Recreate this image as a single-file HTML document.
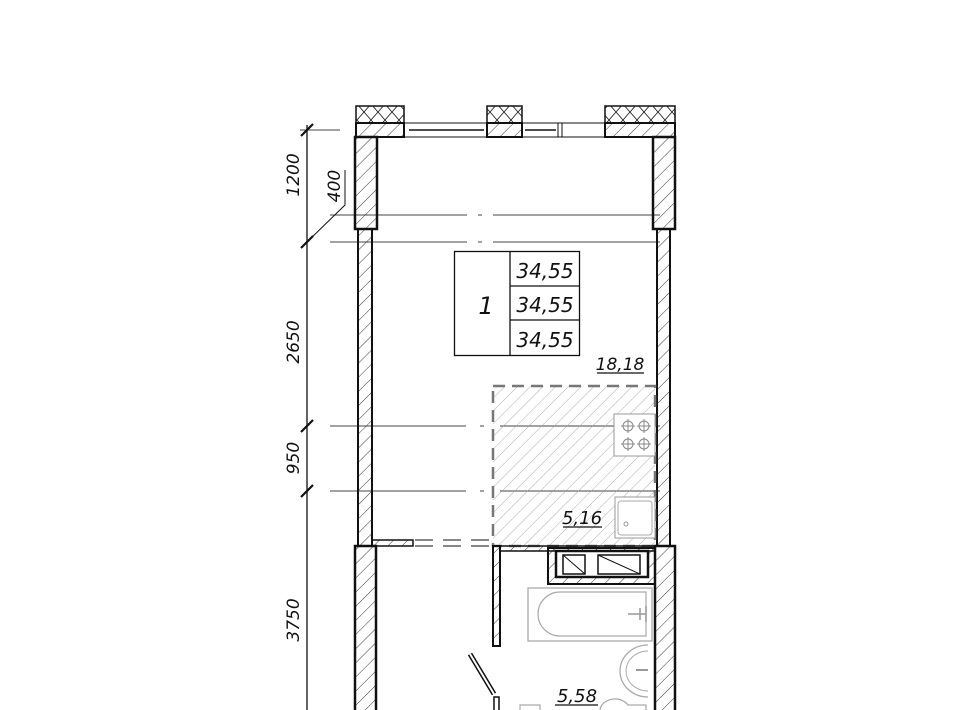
<!DOCTYPE html>
<html><head><meta charset="utf-8"><style>
html,body{margin:0;padding:0;background:#fff;width:960px;height:710px;overflow:hidden}
text{font-family:"DejaVu Sans","Liberation Sans",sans-serif;font-style:italic;fill:#111}
</style></head><body>
<svg width="960" height="710" viewBox="0 0 960 710" xmlns="http://www.w3.org/2000/svg">
<defs>
<pattern id="h" patternUnits="userSpaceOnUse" width="10" height="10" patternTransform="rotate(45)">
<line x1="0" y1="0" x2="0" y2="10" stroke="#222" stroke-width="0.9"/></pattern>
<pattern id="hl" patternUnits="userSpaceOnUse" width="9" height="9" patternTransform="rotate(45)">
<line x1="0" y1="0" x2="0" y2="9" stroke="#999" stroke-width="0.8"/></pattern>
<pattern id="x" patternUnits="userSpaceOnUse" width="14" height="16">
<path d="M0 0L14 16M14 0L0 16" stroke="#222" stroke-width="0.9" fill="none"/></pattern>
</defs>
<g stroke="#111" fill="none">
<g stroke-width="1" stroke="#444">
<line x1="300" y1="130" x2="340" y2="130"/>
<line x1="330" y1="215" x2="467" y2="215"/><line x1="478" y1="215" x2="482" y2="215"/><line x1="493" y1="215" x2="660" y2="215"/>
<line x1="330" y1="242" x2="467" y2="242"/><line x1="478" y1="242" x2="482" y2="242"/><line x1="493" y1="242" x2="660" y2="242"/>
<line x1="330" y1="426" x2="466" y2="426"/><line x1="480" y1="426" x2="484" y2="426"/><line x1="500" y1="426" x2="660" y2="426"/>
<line x1="330" y1="491" x2="466" y2="491"/><line x1="480" y1="491" x2="484" y2="491"/><line x1="500" y1="491" x2="660" y2="491"/>
</g>
<line x1="307" y1="125" x2="307" y2="710" stroke-width="1.3"/>
<g stroke-width="2.2">
<line x1="301" y1="136" x2="313" y2="124"/><line x1="301" y1="248" x2="313" y2="236"/>
<line x1="301" y1="432" x2="313" y2="420"/><line x1="301" y1="497" x2="313" y2="485"/>
</g>
<path d="M306 243L345 205V170" stroke-width="1"/>
<rect x="356" y="106" width="48" height="17" fill="url(#x)" stroke-width="1.5"/>
<rect x="356" y="123" width="48" height="14" fill="url(#h)" stroke-width="2"/>
<rect x="487" y="106" width="35" height="17" fill="url(#x)" stroke-width="1.5"/>
<rect x="487" y="123" width="35" height="14" fill="url(#h)" stroke-width="2"/>
<rect x="605" y="106" width="70" height="17" fill="url(#x)" stroke-width="1.5"/>
<rect x="605" y="123" width="70" height="14" fill="url(#h)" stroke-width="2"/>
<rect x="404" y="123" width="83" height="14" stroke-width="1"/>
<line x1="409" y1="130" x2="484" y2="130" stroke-width="1.5"/>
<rect x="522" y="123" width="83" height="14" stroke-width="1"/>
<line x1="525" y1="130" x2="556" y2="130" stroke-width="1.5"/>
<line x1="558" y1="123" x2="558" y2="137"/><line x1="562" y1="123" x2="562" y2="137"/>
<rect x="355" y="137" width="22" height="92" fill="url(#h)" stroke-width="2.5"/>
<rect x="653" y="137" width="22" height="92" fill="url(#h)" stroke-width="2.5"/>
<rect x="358" y="229" width="14" height="317" fill="url(#h)" stroke-width="2"/>
<rect x="657" y="229" width="13" height="317" fill="url(#h)" stroke-width="2"/>
<rect x="355" y="546" width="21" height="170" fill="url(#h)" stroke-width="2.5"/>
<rect x="655" y="546" width="20" height="170" fill="url(#h)" stroke-width="2.5"/>
<rect x="372" y="540" width="41" height="6" fill="url(#h)" stroke-width="1.5"/>
<line x1="415" y1="540" x2="493" y2="540" stroke-width="1" stroke-dasharray="18,10"/>
<line x1="415" y1="546" x2="493" y2="546" stroke-width="1" stroke-dasharray="18,10"/>
<rect x="493" y="386" width="162" height="160" fill="url(#hl)" stroke="#777" stroke-width="2.5" stroke-dasharray="12,7"/>
<rect x="614" y="414" width="41" height="42" fill="#fff" stroke="#999" stroke-width="1"/>
<g stroke="#888" stroke-width="1">
<circle cx="628" cy="426" r="5"/><circle cx="644" cy="426" r="5"/><circle cx="628" cy="444" r="5"/><circle cx="644" cy="444" r="5"/>
<path d="M621 426h14M628 419v14M637 426h14M644 419v14M621 444h14M628 437v14M637 444h14M644 437v14"/>
</g>
<rect x="615" y="497" width="40" height="41" fill="#fff" stroke="#999" stroke-width="1"/>
<rect x="618" y="501" width="34" height="34" rx="3" stroke="#aaa" stroke-width="1"/>
<circle cx="626" cy="524" r="2" stroke="#999"/>
<rect x="493" y="546" width="7" height="100" fill="url(#h)" stroke-width="2"/>
<rect x="500" y="546" width="155" height="5" fill="url(#h)" stroke-width="1.5"/>
<rect x="548" y="548" width="107" height="36" fill="url(#h)" stroke-width="2"/>
<rect x="556" y="551" width="92" height="26" fill="#fff" stroke-width="2.5"/>
<rect x="563" y="555" width="22" height="19" stroke-width="1.5"/><line x1="563" y1="555" x2="585" y2="574"/>
<rect x="598" y="555" width="42" height="19" stroke-width="1.5"/><line x1="598" y1="555" x2="640" y2="574"/>
<rect x="528" y="588" width="124" height="53" stroke="#aaa" stroke-width="1.3"/>
<path d="M560 592H646V636H560A22 22 0 0 1 560 592Z" stroke="#aaa" stroke-width="1.2"/>
<path d="M628 614h18M640 608v12M646 606v16" stroke="#999" stroke-width="1.5"/>
<path d="M648 645A28 26 0 0 0 648 697" stroke="#aaa" stroke-width="1.3"/>
<path d="M648 651A22 20 0 0 0 648 691" stroke="#aaa" stroke-width="1"/>
<path d="M636 670h12" stroke="#999" stroke-width="2"/>
<path d="M600 710A15 12 0 0 1 628 705H646V710" stroke="#aaa" stroke-width="1.3"/>
<path d="M520 710V705H540V710" stroke="#aaa" stroke-width="1.2"/>
<path d="M470 654L494 694" stroke-width="5"/><path d="M470 654L494 694" stroke="#fff" stroke-width="2"/>
<rect x="494" y="697" width="5" height="15" stroke-width="1.5"/>
<rect x="454.5" y="251.5" width="125" height="104" stroke-width="1.3"/>
<line x1="510" y1="251" x2="510" y2="356" stroke-width="1.3"/>
<line x1="510" y1="286" x2="580" y2="286" stroke-width="1.3"/>
<line x1="510" y1="320" x2="580" y2="320" stroke-width="1.3"/>
<line x1="597" y1="373" x2="644" y2="373" stroke-width="1.3"/>
<line x1="563" y1="527" x2="602" y2="527" stroke-width="1.3"/>
<line x1="555" y1="705" x2="598" y2="705" stroke-width="1.3"/>
</g>
<text x="545" y="278" font-size="20" text-anchor="middle">34,55</text>
<text x="545" y="312" font-size="20" text-anchor="middle">34,55</text>
<text x="545" y="347" font-size="20" text-anchor="middle">34,55</text>
<text x="486" y="314" font-size="24" text-anchor="middle">1</text>
<text x="620" y="370" font-size="17" text-anchor="middle">18,18</text>
<text x="582" y="524" font-size="18" text-anchor="middle">5,16</text>
<text x="577" y="702" font-size="18" text-anchor="middle">5,58</text>
<text transform="translate(299,175) rotate(-90)" font-size="17" text-anchor="middle">1200</text>
<text transform="translate(340,186) rotate(-90)" font-size="17" text-anchor="middle">400</text>
<text transform="translate(299,342) rotate(-90)" font-size="17" text-anchor="middle">2650</text>
<text transform="translate(299,458) rotate(-90)" font-size="17" text-anchor="middle">950</text>
<text transform="translate(299,620) rotate(-90)" font-size="17" text-anchor="middle">3750</text>
</svg>
</body></html>
